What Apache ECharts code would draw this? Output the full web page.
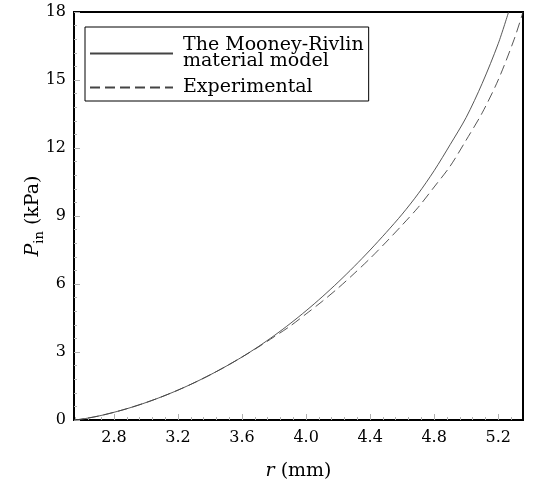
<!DOCTYPE html>
<html>
<head>
<meta charset="utf-8">
<script src="https://cdn.jsdelivr.net/npm/echarts@6/dist/echarts.min.js"></script>
<style>
  html, body { margin: 0; padding: 0; background: #fff; }
  #chart { width: 533px; height: 484px; }
</style>
</head>
<body>
<div id="chart"></div>
<script>
  // 数据：半径 r (mm) 与压力 P_in (kPa)
  const rModel = [2.55, 2.6, 2.7, 2.8, 2.9, 3.0, 3.1, 3.2, 3.3, 3.4, 3.5, 3.6, 3.7, 3.8, 3.9, 4.0,
    4.1, 4.2, 4.3, 4.4, 4.5, 4.6, 4.7, 4.8, 4.9, 5.0, 5.1, 5.2, 5.265];
  const pModel = [0, 0.04, 0.17, 0.34, 0.54, 0.77, 1.03, 1.32, 1.64, 1.99, 2.37, 2.78, 3.23, 3.72, 4.25, 4.82,
    5.43, 6.08, 6.77, 7.5, 8.27, 9.08, 9.98, 11.0, 12.15, 13.35, 14.85, 16.6, 18.0];

  const rExp = [2.55, 2.6, 2.7, 2.8, 2.9, 3.0, 3.1, 3.2, 3.3, 3.4, 3.5, 3.6, 3.7, 3.8, 3.9, 4.0,
    4.1, 4.2, 4.3, 4.4, 4.5, 4.6, 4.7, 4.8, 4.9, 5.0, 5.1, 5.2, 5.3, 5.355];
  const pExp = [0, 0.04, 0.17, 0.34, 0.54, 0.77, 1.03, 1.32, 1.64, 1.99, 2.37, 2.78, 3.21, 3.67, 4.14, 4.68,
    5.23, 5.82, 6.46, 7.13, 7.85, 8.6, 9.38, 10.28, 11.2, 12.35, 13.55, 15.0, 16.8, 18.0];

  // 刻度
  const xTicks = [2.8, 3.2, 3.6, 4.0, 4.4, 4.8, 5.2];
  const xMinorTicks = [2.56, 2.64, 2.72, 2.88, 2.96, 3.04, 3.12, 3.28, 3.36, 3.44, 3.52,
    3.68, 3.76, 3.84, 3.92, 4.08, 4.16, 4.24, 4.32, 4.48, 4.56, 4.64, 4.72,
    4.88, 4.96, 5.04, 5.12, 5.28];

  const font = 'DejaVu Serif';
  const tickGray = '#b0b0b0';

  const chart = echarts.init(document.getElementById('chart'));

  const option = {
    animation: false,
    grid: {
      left: 74, right: 10, top: 12, bottom: 64,
      outerBoundsMode: 'none',
      show: true, borderColor: '#000', borderWidth: 2, backgroundColor: 'transparent',
    },
    legend: {
      orient: 'vertical',
      left: 85, top: 27,
      backgroundColor: '#fff',
      borderColor: '#000', borderWidth: 1, borderRadius: 0,
      padding: [9, 5, 4, 4],
      itemWidth: 83, itemHeight: 12, itemGap: 7,
      itemStyle: { opacity: 0 },
      textStyle: { fontFamily: font, fontSize: 19, color: '#000', lineHeight: 16, padding: [0, 0, 0, 5] },
      data: ['The Mooney-Rivlin\nmaterial model', 'Experimental'],
    },
    xAxis: [
      {
        type: 'value',
        min: 2.55, max: 5.355,
        name: '{i|r} (mm)',
        nameLocation: 'middle',
        nameGap: 42,
        nameMoveOverlap: false,
        nameTextStyle: {
          fontFamily: font, fontSize: 19, color: '#000',
          rich: { i: { fontFamily: font, fontSize: 19, fontStyle: 'italic' } },
        },
        axisLine: { show: false },
        splitLine: { show: false },
        axisTick: { inside: true, length: 6, customValues: xTicks, lineStyle: { color: tickGray } },
        axisLabel: {
          customValues: xTicks, margin: 10,
          fontFamily: font, fontSize: 16, color: '#000',
          formatter: (v) => v.toFixed(1),
        },
      },
      {
        // 次刻度
        type: 'value',
        min: 2.55, max: 5.355,
        position: 'bottom',
        axisLine: { show: false },
        splitLine: { show: false },
        axisLabel: { show: false },
        axisTick: { inside: true, length: 3, customValues: xMinorTicks, lineStyle: { color: tickGray } },
      },
    ],
    yAxis: {
      type: 'value',
      min: 0, max: 18, interval: 3,
      name: '{i|P}{s|in} (kPa)',
      nameLocation: 'middle',
      nameRotate: 90,
      nameGap: 28,
      nameMoveOverlap: false,
      nameTextStyle: {
        fontFamily: font, fontSize: 19, color: '#000', lineHeight: 26,
        rich: {
          i: { fontFamily: font, fontSize: 19, fontStyle: 'italic', lineHeight: 26 },
          s: { fontFamily: font, fontSize: 13, lineHeight: 14, verticalAlign: 'bottom' },
        },
      },
      axisLine: { show: false },
      splitLine: { show: false },
      axisTick: { inside: true, length: 6, lineStyle: { color: tickGray } },
      minorTick: { show: true, splitNumber: 5, length: 3, lineStyle: { color: tickGray } },
      axisLabel: { margin: 8, fontFamily: font, fontSize: 16, color: '#000' },
    },
    series: [
      {
        name: 'The Mooney-Rivlin\nmaterial model',
        type: 'line',
        symbol: 'none',
        smooth: 0.3,
        lineStyle: { color: '#444', width: 0.9 },
        itemStyle: { color: '#444' },
        data: rModel.map((r, i) => [r, pModel[i]]),
      },
      {
        name: 'Experimental',
        type: 'line',
        symbol: 'none',
        smooth: 0.3,
        lineStyle: { color: '#444', width: 0.9, type: [10, 5] },
        itemStyle: { color: '#444' },
        data: rExp.map((r, i) => [r, pExp[i]]),
      },
    ],
  };

  chart.setOption(option);
</script>
</body>
</html>
